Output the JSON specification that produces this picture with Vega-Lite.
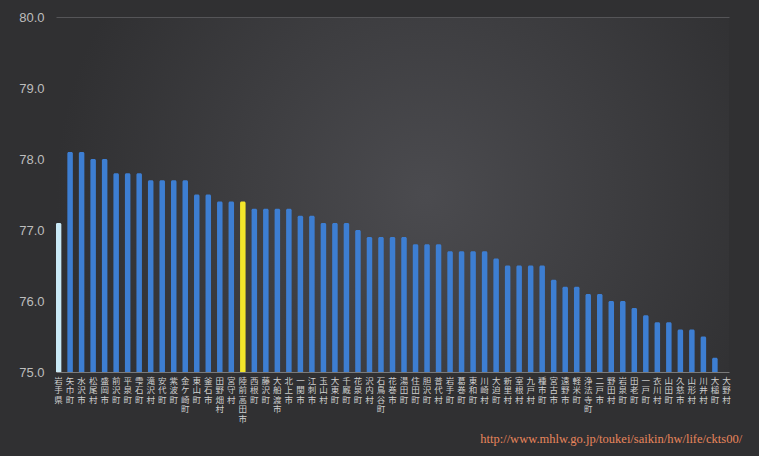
{
  "$schema": "https://vega.github.io/schema/vega-lite/v6.json",
  "width": 673,
  "height": 355,
  "autosize": "none",
  "padding": {"left": 56, "top": 17, "right": 30, "bottom": 84},
  "background": "#303032",
  "title": {
    "text": "http://www.mhlw.go.jp/toukei/saikin/hw/life/ckts00/",
    "orient": "bottom",
    "anchor": "end",
    "font": "Liberation Serif",
    "fontSize": 12.5,
    "fontWeight": "normal",
    "color": "#e8865c",
    "dx": 12,
    "offset": 10
  },
  "data": {
    "values": [
      {"name": "岩手県", "value": 77.1, "kind": "県"},
      {"name": "矢巾町", "value": 78.1, "kind": "市町村"},
      {"name": "水沢市", "value": 78.1, "kind": "市町村"},
      {"name": "松尾村", "value": 78.0, "kind": "市町村"},
      {"name": "盛岡市", "value": 78.0, "kind": "市町村"},
      {"name": "前沢町", "value": 77.8, "kind": "市町村"},
      {"name": "平泉町", "value": 77.8, "kind": "市町村"},
      {"name": "雫石町", "value": 77.8, "kind": "市町村"},
      {"name": "滝沢村", "value": 77.7, "kind": "市町村"},
      {"name": "安代町", "value": 77.7, "kind": "市町村"},
      {"name": "紫波町", "value": 77.7, "kind": "市町村"},
      {"name": "金ケ崎町", "value": 77.7, "kind": "市町村"},
      {"name": "東山町", "value": 77.5, "kind": "市町村"},
      {"name": "釜石市", "value": 77.5, "kind": "市町村"},
      {"name": "田野畑村", "value": 77.4, "kind": "市町村"},
      {"name": "宮守村", "value": 77.4, "kind": "市町村"},
      {"name": "陸前高田市", "value": 77.4, "kind": "陸前高田市"},
      {"name": "西根町", "value": 77.3, "kind": "市町村"},
      {"name": "藤沢町", "value": 77.3, "kind": "市町村"},
      {"name": "大船渡市", "value": 77.3, "kind": "市町村"},
      {"name": "北上市", "value": 77.3, "kind": "市町村"},
      {"name": "一関市", "value": 77.2, "kind": "市町村"},
      {"name": "江刺市", "value": 77.2, "kind": "市町村"},
      {"name": "玉山村", "value": 77.1, "kind": "市町村"},
      {"name": "大東町", "value": 77.1, "kind": "市町村"},
      {"name": "千厩町", "value": 77.1, "kind": "市町村"},
      {"name": "花泉町", "value": 77.0, "kind": "市町村"},
      {"name": "沢内村", "value": 76.9, "kind": "市町村"},
      {"name": "石鳥谷町", "value": 76.9, "kind": "市町村"},
      {"name": "花巻市", "value": 76.9, "kind": "市町村"},
      {"name": "湯田町", "value": 76.9, "kind": "市町村"},
      {"name": "住田町", "value": 76.8, "kind": "市町村"},
      {"name": "胆沢町", "value": 76.8, "kind": "市町村"},
      {"name": "普代村", "value": 76.8, "kind": "市町村"},
      {"name": "岩手町", "value": 76.7, "kind": "市町村"},
      {"name": "葛巻町", "value": 76.7, "kind": "市町村"},
      {"name": "東和町", "value": 76.7, "kind": "市町村"},
      {"name": "川崎村", "value": 76.7, "kind": "市町村"},
      {"name": "大迫町", "value": 76.6, "kind": "市町村"},
      {"name": "新里村", "value": 76.5, "kind": "市町村"},
      {"name": "室根村", "value": 76.5, "kind": "市町村"},
      {"name": "九戸村", "value": 76.5, "kind": "市町村"},
      {"name": "種市町", "value": 76.5, "kind": "市町村"},
      {"name": "宮古市", "value": 76.3, "kind": "市町村"},
      {"name": "遠野市", "value": 76.2, "kind": "市町村"},
      {"name": "軽米町", "value": 76.2, "kind": "市町村"},
      {"name": "浄法寺町", "value": 76.1, "kind": "市町村"},
      {"name": "二戸市", "value": 76.1, "kind": "市町村"},
      {"name": "野田村", "value": 76.0, "kind": "市町村"},
      {"name": "岩泉町", "value": 76.0, "kind": "市町村"},
      {"name": "田老町", "value": 75.9, "kind": "市町村"},
      {"name": "一戸町", "value": 75.8, "kind": "市町村"},
      {"name": "衣川村", "value": 75.7, "kind": "市町村"},
      {"name": "山田町", "value": 75.7, "kind": "市町村"},
      {"name": "久慈市", "value": 75.6, "kind": "市町村"},
      {"name": "山形村", "value": 75.6, "kind": "市町村"},
      {"name": "川井村", "value": 75.5, "kind": "市町村"},
      {"name": "大槌町", "value": 75.2, "kind": "市町村"},
      {"name": "大野村", "value": 75.0, "kind": "市町村"}
    ]
  },
  "mark": {
    "type": "bar",
    "width": 5.5,
    "cornerRadiusTopLeft": 1.5,
    "cornerRadiusTopRight": 1.5,
    "clip": true
  },
  "encoding": {
    "x": {
      "field": "name",
      "type": "nominal",
      "sort": null,
      "scale": {"paddingInner": 0.55, "paddingOuter": 0},
      "axis": {
        "title": null,
        "labelAngle": 0,
        "labelExpr": "split(datum.label, '')",
        "labelFont": "Noto Sans CJK JP",
        "labelFontSize": 8.5,
        "labelLineHeight": 9.6,
        "labelColor": "#cfcfcf",
        "labelBaseline": "top",
        "labelPadding": 4,
        "labelOverlap": false,
        "labelBound": false,
        "ticks": false,
        "domain": true,
        "domainColor": "#7a7a7a",
        "domainWidth": 1.2,
        "grid": false
      }
    },
    "y": {
      "field": "value",
      "type": "quantitative",
      "scale": {"domain": [75, 80], "zero": false, "nice": false},
      "axis": {
        "title": null,
        "values": [75, 76, 77, 78, 79, 80],
        "format": ".1f",
        "labelFont": "Liberation Sans",
        "labelFontSize": 13,
        "labelColor": "#bdbdbd",
        "labelPadding": 12,
        "ticks": false,
        "domain": false,
        "grid": true,
        "gridColor": {"condition": {"test": "datum.value === 80", "value": "#555558"}, "value": "transparent"}
      }
    },
    "y2": {"datum": 75},
    "color": {
      "field": "kind",
      "type": "nominal",
      "scale": {
        "domain": ["県", "市町村", "陸前高田市"],
        "range": ["#c9e9f6", "#3d7ed2", "#f3e62a"]
      },
      "legend": null
    }
  },
  "config": {
    "view": {
      "stroke": null,
      "fill": {
        "gradient": "radial",
        "x1": 0.55, "y1": 0.5, "r1": 0,
        "x2": 0.55, "y2": 0.5, "r2": 0.55,
        "stops": [
          {"offset": 0, "color": "#4b4b4f"},
          {"offset": 1, "color": "#303032"}
        ]
      }
    }
  }
}
